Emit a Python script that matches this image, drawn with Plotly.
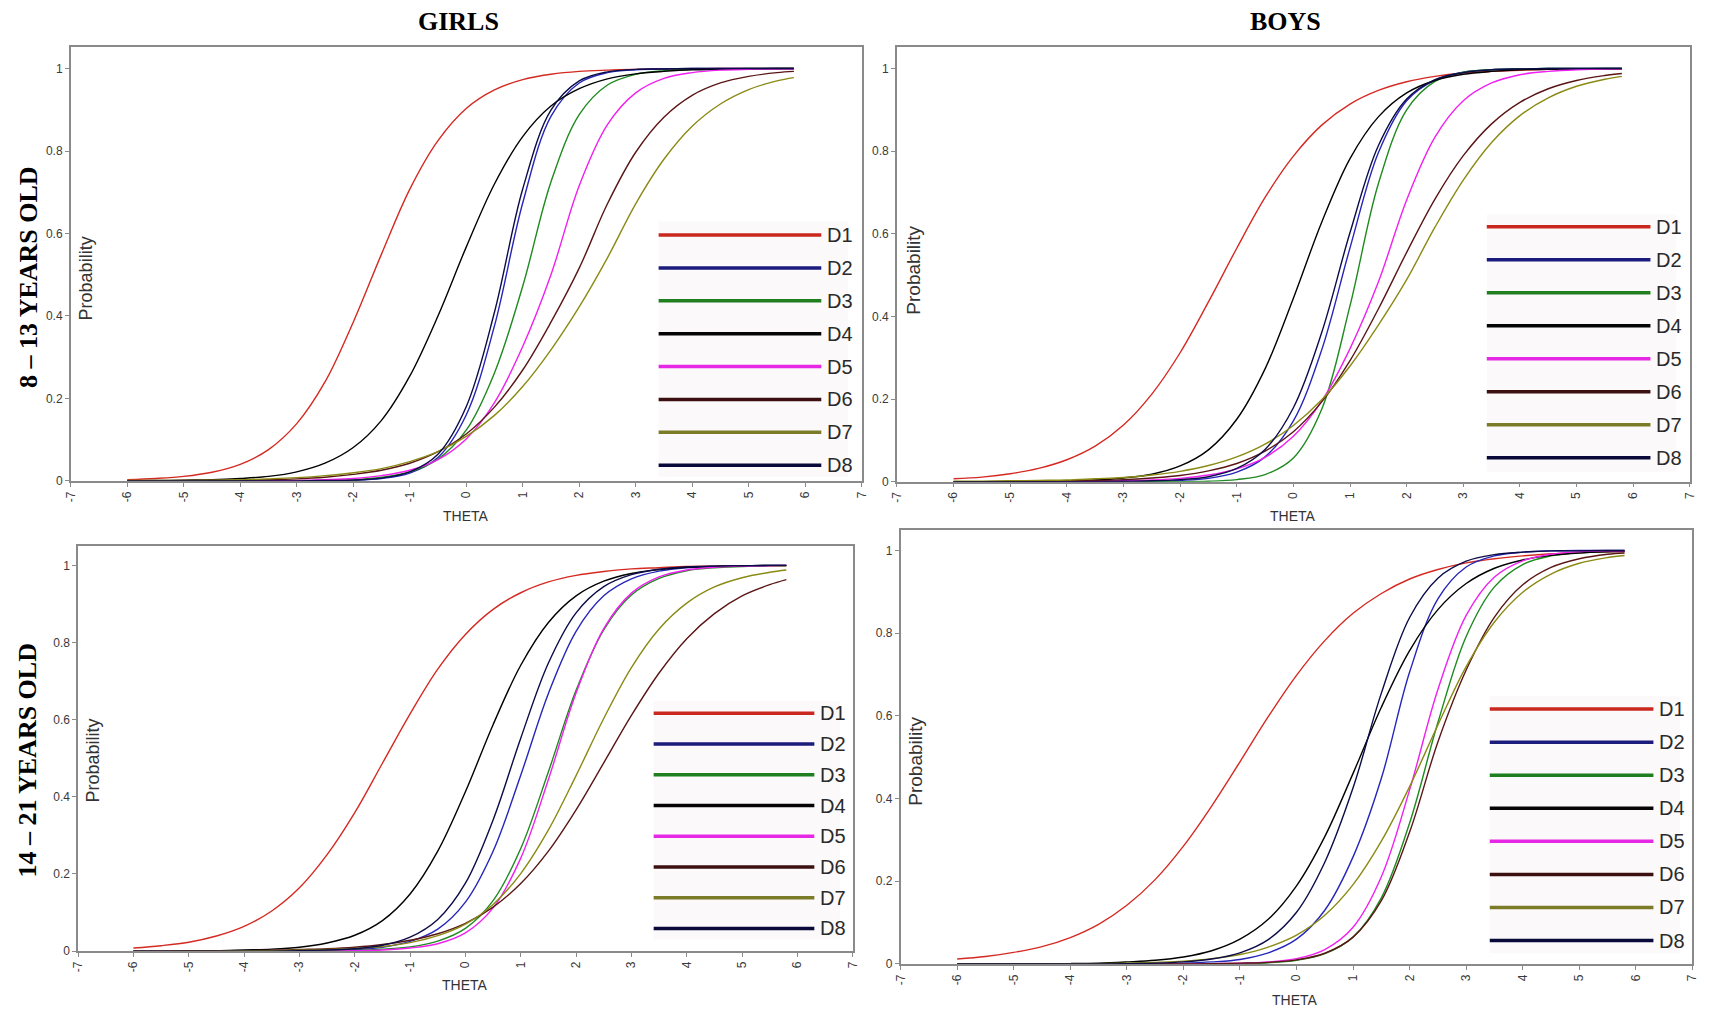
import plotly.graph_objects as go

W, H = 1711, 1013

# ---------------- data ----------------
theta = [-6, -5.5, -5, -4.5, -4, -3.5, -3, -2.5, -2, -1.5, -1, -0.5, 0,
         0.5, 1, 1.5, 2, 2.5, 3, 3.5, 4, 4.5, 5, 5.5, 5.8]
items = ["D1", "D2", "D3", "D4", "D5", "D6", "D7", "D8"]
x_ticks = list(range(-7, 8))
y_ticks = [0, 0.2, 0.4, 0.6, 0.8, 1]
y_tick_text = ["0", "0.2", "0.4", "0.6", "0.8", "1"]
col_titles = ["GIRLS", "BOYS"]
row_titles = ["8 \u2013 13 YEARS OLD", "14 \u2013 21 YEARS OLD"]

girls_8_13 = {
    "D1": [.003, .006, .011, .021, .040, .076, .139, .240, .385, .550, .707, .825, .903, .948, .973, .986, .993, .996, .998, .999, .999, 1, 1, 1, 1],
    "D2": [0, 0, 0, 0, 0, 0, 0, .001, .002, .006, .019, .057, .160, .376, .674, .884, .965, .990, .997, .999, 1, 1, 1, 1, 1],
    "D3": [0, 0, 0, 0, 0, 0, 0, .001, .003, .009, .022, .053, .123, .262, .472, .725, .888, .960, .986, .995, .998, .999, 1, 1, 1],
    "D4": [0, .001, .002, .003, .006, .011, .022, .043, .081, .147, .254, .400, .567, .720, .835, .909, .951, .975, .987, .993, .997, .998, .999, 1, 1],
    "D5": [0, 0, 0, 0, 0, .001, .001, .003, .006, .013, .026, .052, .102, .190, .326, .500, .716, .864, .941, .976, .990, .996, .998, .999, .999],
    "D6": [0, 0, .001, .001, .002, .003, .005, .009, .016, .026, .043, .071, .114, .179, .269, .385, .516, .672, .797, .882, .935, .965, .981, .990, .993],
    "D7": [.001, .001, .001, .002, .003, .005, .008, .013, .020, .030, .047, .071, .108, .159, .229, .318, .422, .541, .672, .780, .860, .914, .949, .970, .978],
    "D8": [0, 0, 0, 0, 0, 0, 0, .001, .002, .007, .022, .065, .180, .409, .708, .899, .970, .992, .998, .999, 1, 1, 1, 1, 1],
}
boys_8_13 = {
    "D1": [.007, .011, .019, .032, .053, .086, .137, .212, .312, .435, .565, .688, .788, .863, .914, .947, .968, .981, .989, .993, .996, .998, .999, .999, .999],
    "D2": [0, 0, 0, 0, 0, 0, 0, .001, .003, .008, .023, .060, .147, .319, .566, .796, .922, .972, .991, .997, .999, 1, 1, 1, 1],
    "D3": [0, 0, 0, 0, 0, 0, 0, 0, 0, .001, .005, .017, .057, .175, .426, .721, .900, .969, .991, .997, .999, 1, 1, 1, 1],
    "D4": [0, 0, 0, .001, .002, .004, .009, .018, .038, .077, .151, .273, .444, .628, .782, .883, .941, .971, .986, .993, .997, .998, .999, 1, 1],
    "D5": [0, 0, 0, 0, .001, .001, .002, .004, .008, .016, .031, .059, .110, .195, .322, .483, .682, .834, .922, .965, .985, .993, .997, .999, .999],
    "D6": [0, 0, .001, .001, .002, .003, .005, .009, .015, .026, .044, .074, .121, .193, .293, .418, .555, .684, .789, .866, .918, .951, .971, .983, .988],
    "D7": [.001, .001, .002, .003, .004, .007, .010, .016, .025, .039, .060, .091, .136, .198, .280, .379, .489, .616, .730, .821, .886, .929, .957, .974, .981],
    "D8": [0, 0, 0, 0, 0, 0, .001, .002, .005, .012, .032, .078, .179, .361, .603, .813, .926, .973, .990, .997, .999, 1, 1, 1, 1],
}
girls_14_21 = {
    "D1": [.008, .014, .023, .039, .064, .104, .164, .250, .359, .487, .615, .731, .821, .886, .929, .957, .974, .984, .991, .994, .997, .998, .999, .999, .999],
    "D2": [0, 0, 0, 0, 0, 0, .001, .002, .004, .010, .025, .057, .127, .259, .456, .668, .829, .921, .965, .985, .994, .997, .999, 1, 1],
    "D3": [0, 0, 0, 0, 0, 0, 0, .001, .002, .005, .011, .026, .059, .131, .266, .465, .676, .833, .923, .966, .986, .994, .997, .999, .999],
    "D4": [0, 0, .001, .001, .003, .005, .010, .021, .041, .079, .148, .259, .413, .587, .741, .852, .921, .959, .979, .989, .995, .997, .999, 1, 1],
    "D5": [0, 0, 0, 0, 0, 0, 0, 0, .001, .003, .008, .019, .047, .112, .241, .445, .669, .836, .928, .970, .988, .995, .998, .999, 1],
    "D6": [0, 0, .001, .001, .001, .002, .004, .006, .010, .017, .028, .045, .072, .114, .175, .259, .366, .488, .611, .721, .810, .875, .921, .950, .963],
    "D7": [0, 0, 0, 0, .001, .001, .002, .004, .007, .012, .022, .040, .070, .121, .201, .314, .455, .603, .735, .835, .902, .944, .968, .982, .988],
    "D8": [0, 0, 0, 0, 0, 0, .001, .003, .006, .015, .036, .082, .176, .340, .552, .747, .877, .945, .976, .990, .996, .998, .999, 1, 1],
}
boys_14_21 = {
    "D1": [.012, .018, .028, .042, .064, .096, .142, .204, .285, .382, .489, .598, .698, .782, .848, .896, .931, .954, .970, .980, .987, .992, .995, .997, .997],
    "D2": [0, 0, 0, 0, 0, 0, 0, .001, .002, .005, .011, .027, .060, .130, .259, .449, .706, .883, .960, .987, .996, .999, 1, 1, 1],
    "D3": [0, 0, 0, 0, 0, 0, 0, 0, 0, 0, .001, .003, .009, .025, .065, .160, .341, .584, .792, .912, .966, .987, .995, .998, .999],
    "D4": [0, 0, 0, .001, .001, .002, .005, .009, .017, .032, .060, .108, .189, .308, .461, .621, .758, .857, .920, .957, .977, .988, .994, .997, .998],
    "D5": [0, 0, 0, 0, 0, 0, 0, 0, 0, .001, .002, .005, .013, .035, .089, .211, .421, .664, .843, .936, .975, .991, .997, .999, .999],
    "D6": [0, 0, 0, 0, 0, 0, 0, 0, 0, .001, .002, .004, .010, .026, .065, .153, .319, .537, .711, .839, .917, .959, .980, .991, .994],
    "D7": [0, 0, 0, 0, .001, .001, .002, .004, .007, .013, .023, .041, .070, .118, .192, .297, .429, .578, .719, .827, .899, .943, .969, .983, .988],
    "D8": [0, 0, 0, 0, 0, 0, .001, .002, .005, .012, .027, .059, .125, .246, .426, .655, .838, .933, .974, .990, .996, .999, .999, 1, 1],
}

# ---------------- styling ----------------
colors = {"D1": "#d42a22", "D2": "#2626b8", "D3": "#1f8a1f", "D4": "#000000",
          "D5": "#f020f0", "D6": "#5a1616", "D7": "#8a8a14", "D8": "#0c0c48"}
legend_colors = {"D1": "#c8281e", "D2": "#1c1c7c", "D3": "#1f7f1f", "D4": "#050505",
                 "D5": "#e628e6", "D6": "#3c1010", "D7": "#7c7c28", "D8": "#0a0a3a"}
FRAME = "#8a8a8a"
TICKFONT = dict(family="Liberation Sans Narrow, Arial Narrow, Liberation Sans, Arial, sans-serif",
                size=12, color="#3a3a3a")


def pxx(x):
    return x / W


def pyy(y):
    return 1 - y / H


# panel pixel geometry: left, right, y0 (value 0), y1 (value 1), top frame
panels = [
    dict(data=girls_8_13, left=64.3, right=861.7, y0=484.3, y1=69.0, top=47.7,
         leg=(657, 821, 236.7, 33.1, 825, 848, 223, 480),
         prob=(80, 280, 18), theta=(463, 520)),
    dict(data=boys_8_13, left=897.3, right=1696.7, y0=485.0, y1=69.0, top=47.7,
         leg=(1492, 1657, 228.3, 33.25, 1661, 1683, 216, 475),
         prob=(914, 272, 19), theta=(1297, 520)),
    dict(data=girls_14_21, left=71.7, right=852.7, y0=957.7, y1=569.3, top=550.0,
         leg=(652, 814, 718.3, 30.95, 818, 840, 706, 946),
         prob=(86.5, 766, 18), theta=(462, 992)),
    dict(data=boys_14_21, left=901.0, right=1699.3, y0=970.7, y1=554.3, top=534.0,
         leg=(1495, 1660, 714.0, 33.3, 1664, 1687, 701, 960),
         prob=(916.5, 767, 19), theta=(1299, 1007)),
]

fig = go.Figure()
shapes = []
annotations = []
layout_axes = {}

for i, p in enumerate(panels):
    k = "" if i == 0 else str(i + 1)
    xa, ya = "x" + k, "y" + k
    for name in items:
        fig.add_trace(go.Scatter(
            x=theta, y=p["data"][name], mode="lines", name=name,
            line=dict(color=colors[name], width=1.4, shape="spline", smoothing=1.0),
            xaxis=xa, yaxis=ya, showlegend=False, hoverinfo="skip"))
    ytop = (p["y0"] - p["top"]) / (p["y0"] - p["y1"])
    layout_axes["xaxis" + k] = dict(
        domain=[pxx(p["left"]), pxx(p["right"])], range=[-7, 7], anchor=ya,
        tickmode="array", tickvals=x_ticks, ticktext=[str(v) for v in x_ticks],
        tickangle=-90, ticks="outside", ticklen=4, tickwidth=1, tickcolor=FRAME,
        showline=True, mirror=True, linecolor=FRAME, linewidth=1.5,
        showgrid=False, zeroline=False, tickfont=TICKFONT)
    layout_axes["yaxis" + k] = dict(
        domain=[pyy(p["y0"]), pyy(p["top"])], range=[0, ytop], anchor=xa,
        tickmode="array", tickvals=y_ticks, ticktext=y_tick_text,
        ticks="outside", ticklen=4, tickwidth=1, tickcolor=FRAME,
        showline=True, mirror=True, linecolor=FRAME, linewidth=1.5,
        showgrid=False, zeroline=False, tickfont=TICKFONT)

    # legend box drawn inside the panel
    lx0, lx1, ly, dy, tx, bx1, by0, by1 = p["leg"]
    shapes.append(dict(type="rect", xref="paper", yref="paper",
                       x0=pxx(lx0), x1=pxx(bx1), y0=pyy(by1), y1=pyy(by0),
                       fillcolor="#fbf9f9", line=dict(width=0), layer="below"))
    for j, name in enumerate(items):
        yy = ly + j * dy
        shapes.append(dict(type="line", xref="paper", yref="paper",
                           x0=pxx(lx0), x1=pxx(lx1), y0=pyy(yy), y1=pyy(yy),
                           line=dict(color=legend_colors[name], width=3.5)))
        annotations.append(dict(text=name, xref="paper", yref="paper",
                                x=pxx(tx), y=pyy(yy), xanchor="left", yanchor="middle",
                                showarrow=False,
                                font=dict(family="Liberation Sans Narrow, Arial Narrow, Liberation Sans, Arial",
                                          size=20, color="#2a2a2a")))
    # Probability label inside the frame
    px_, py_, fs = p["prob"]
    annotations.append(dict(text="Probability", xref="paper", yref="paper",
                            x=pxx(px_), y=pyy(py_), xanchor="center", yanchor="middle",
                            textangle=-90, showarrow=False,
                            font=dict(family="Liberation Sans, Arial, sans-serif",
                                      size=fs, color="#333333")))
    # THETA axis title
    tx_, ty_ = p["theta"]
    annotations.append(dict(text="THETA", xref="paper", yref="paper",
                            x=pxx(tx_), y=pyy(ty_), xanchor="center", yanchor="middle",
                            showarrow=False,
                            font=dict(family="Liberation Sans Narrow, Arial Narrow, Liberation Sans, Arial",
                                      size=14, color="#333333")))

# column and row titles
for txt, cx in zip(col_titles, [455, 1289]):
    annotations.append(dict(text="<b>" + txt + "</b>", xref="paper", yref="paper",
                            x=pxx(cx), y=pyy(22), xanchor="center", yanchor="middle",
                            showarrow=False,
                            font=dict(family="Liberation Serif, Times New Roman, serif",
                                      size=26, color="#000000")))
for txt, cy in zip(row_titles, [279, 765]):
    annotations.append(dict(text="<b>" + txt + "</b>", xref="paper", yref="paper",
                            x=pxx(21), y=pyy(cy), xanchor="center", yanchor="middle",
                            textangle=-90, showarrow=False,
                            font=dict(family="Liberation Serif, Times New Roman, serif",
                                      size=26, color="#000000")))

fig.update_layout(
    width=W, height=H, autosize=False,
    margin=dict(l=0, r=0, t=0, b=0),
    paper_bgcolor="white", plot_bgcolor="rgba(0,0,0,0)",
    shapes=shapes, annotations=annotations, showlegend=False,
    **layout_axes)

fig.write_html("out.html", config={"displayModeBar": False},
               post_script="document.body.style.margin='0';")
